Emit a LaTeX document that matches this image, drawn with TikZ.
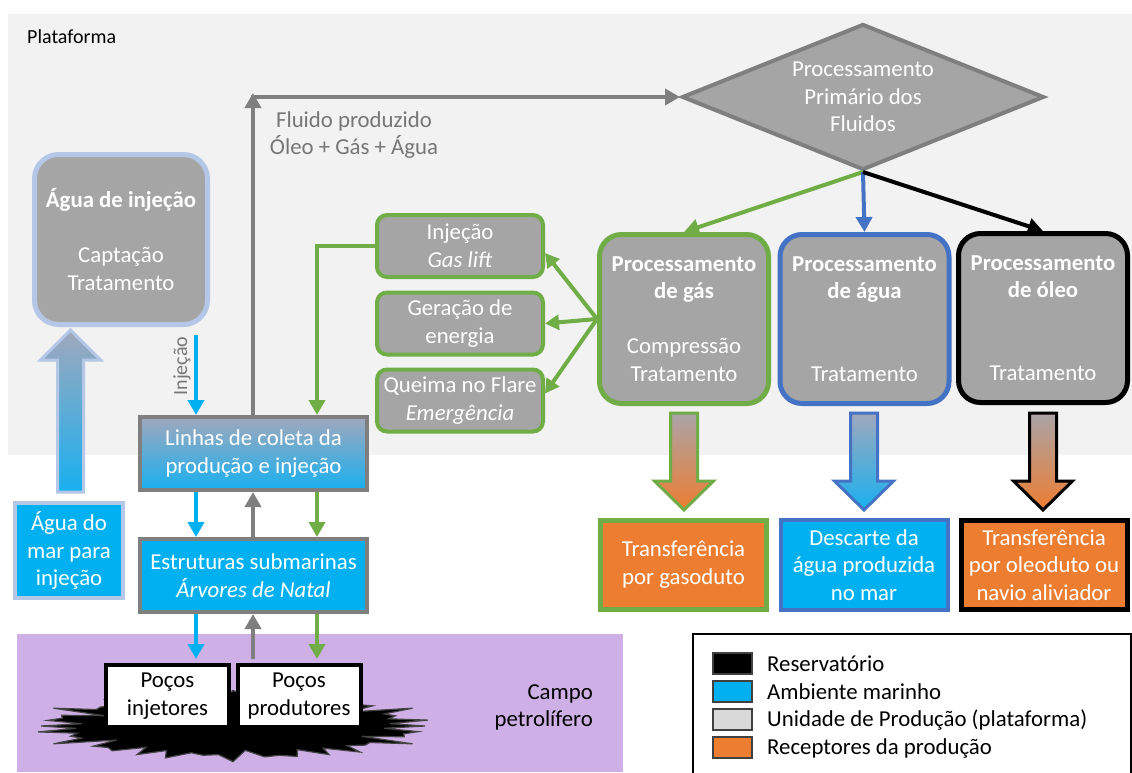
\documentclass[tikz,border=0pt]{standalone}
\usepackage{fontspec}
\setmainfont{Carlito}
\usetikzlibrary{arrows.meta,calc,shapes.geometric}

\definecolor{platbg}{HTML}{F2F2F2}
\definecolor{boxgray}{HTML}{A5A5A5}
\definecolor{edgegray}{HTML}{7F7F7F}
\definecolor{gasgreen}{HTML}{70AD47}
\definecolor{watblue}{HTML}{4472C4}
\definecolor{seacyan}{HTML}{00B0F0}
\definecolor{recorange}{HTML}{ED7D31}
\definecolor{paleblue}{HTML}{B4C7E7}
\definecolor{fieldpurple}{RGB}{207,176,230}
\definecolor{labelgray}{HTML}{767676}
\definecolor{fadeblue}{RGB}{160,168,188}
\definecolor{fadegray}{RGB}{170,164,168}
\definecolor{deepcyan}{RGB}{24,176,240}
\definecolor{legendgray}{HTML}{D9D9D9}
\definecolor{swatchedge}{HTML}{404040}
\definecolor{rockgray}{HTML}{444444}

\tikzset{
  base/.style={font=\fontsize{22.8pt}{27.6pt}\selectfont, align=center, inner sep=0pt},
  graybox/.style={base, fill=boxgray, text=white},
  procbox/.style={graybox, line width=5pt, minimum width=169pt, minimum height=169pt, rounded corners=22pt},
  sidebox/.style={graybox, draw=gasgreen, line width=4pt, minimum width=166pt, minimum height=62pt, rounded corners=10pt},
  recbox/.style={base, text=white, line width=5pt, minimum width=166pt, minimum height=89pt},
  wellbox/.style={base, draw=black, fill=white, line width=4pt, minimum width=123pt, minimum height=62pt},
  seabox/.style={base, draw=edgegray, line width=4pt, text=white, minimum width=227pt, minimum height=73pt},
  swatch/.style={draw=swatchedge, line width=2.5pt, minimum width=39pt, minimum height=21pt, inner sep=0pt},
  legtext/.style={base, anchor=west},
  conn/.style={line width=4pt, -{Triangle[length=15pt,width=16pt]}},
  fatarrow/.style={line width=3pt, line join=miter},
}

\begin{document}
\begin{tikzpicture}[x=1pt, y=-1pt]
\useasboundingbox (0,0) rectangle (1132,772);

% platform and oil field areas
\fill[platbg] (8,14) rectangle (1132,455);
\fill[fieldpurple] (17,634) rectangle (623,772);
\node[base, anchor=west, font=\fontsize{20pt}{24pt}\selectfont] (plat) at (27,37) {Plataforma};
\node[base, anchor=east, align=right] (campo) at (593,707.5) {Campo\\petrolífero};

% reservoir rock: a flattened jagged starburst
\begin{scope}[shift={(233,726)}]
  \filldraw[fill=black, draw=rockgray, line width=1.2pt, line join=miter]
    (192,0) \foreach \k in {1,...,71}{
      -- ({(1-0.2*mod(\k,2)-0.05*mod(\k,3)+0.04*mod(\k,4))*192*cos(5*\k)},
          {(1-0.2*mod(\k,2)-0.05*mod(\k,3)+0.04*mod(\k,4))*33*sin(5*\k)}) } -- cycle;
\end{scope}

% column positions of the vertical links
\coordinate (colA) at (196,0);
\coordinate (colB) at (253,0);
\coordinate (colC) at (317,0);
\coordinate (fc) at (253,97);
\coordinate (injsrc) at (196,335);

% injection water
\node[graybox, draw=paleblue, line width=5pt, minimum width=173pt, minimum height=170pt, rounded corners=24pt] (agua) at (121,239.5)
  {\textbf{Água de injeção}\\\mbox{}\\Captação\\Tratamento};
\node[base, draw=paleblue, fill=seacyan, text=white, line width=4pt, minimum width=108pt, minimum height=95pt] (mar) at (69,550.5)
  {Água do\\mar para\\injeção};
\begin{scope}[shift={(70.5,492)}]
  \path[fatarrow, draw=paleblue, top color=fadeblue, bottom color=deepcyan]
    (-13,0) -- (-13,-132) -- (-30,-132) -- (0,-162) -- (30,-132) -- (13,-132) -- (13,0) -- cycle;
\end{scope}

% subsea lines and structures
\node[seabox, top color=fadeblue, bottom color=deepcyan] (lin) at (253.5,453.5) {Linhas de coleta da\\produção e injeção};
\node[seabox, fill=seacyan] (est) at (253.5,575.5) {Estruturas submarinas\\\textit{Árvores de Natal}};

% wells
\node[wellbox] (pinj) at (167.5,696) {Poços\\injetores};
\node[wellbox] (pprod) at (299,696) {Poços\\produtores};

% gas uses
\node[sidebox] (gl) at (460,246) {Injeção\\\textit{Gas lift}};
\node[sidebox] (ger) at (460,323.5) {Geração de\\energia};
\node[sidebox] (que) at (460,400.5) {Queima no Flare\\\textit{Emergência}};

% primary processing
\node[diamond, graybox, draw=edgegray, line width=4pt, minimum width=362pt, minimum height=146pt, shape aspect=2.45] (ppf) at (863,97)
  {Processamento\\Primário dos\\Fluidos};
\node[base, text=labelgray] (fluido) at (354,135) {Fluido produzido\\Óleo + Gás + Água};

\node[procbox, draw=gasgreen] (gas) at (684,319)
  {\textbf{Processamento}\\\textbf{de gás}\\\mbox{}\\Compressão\\Tratamento};
\node[procbox, draw=watblue] (wat) at (864.5,319)
  {\textbf{Processamento}\\\textbf{de água}\\\mbox{}\\\mbox{}\\Tratamento};
\node[procbox, draw=black] (oil) at (1043,318)
  {\textbf{Processamento}\\\textbf{de óleo}\\\mbox{}\\\mbox{}\\Tratamento};

% production receivers
\node[recbox, draw=gasgreen, fill=recorange] (rgas) at (683.5,564.5) {Transferência\\por gasoduto};
\node[recbox, draw=watblue, fill=seacyan, line width=4pt, minimum width=167pt, minimum height=90pt] (rwat) at (864,565) {Descarte da\\água produzida\\no mar};
\node[recbox, draw=black, fill=recorange] (roil) at (1044,565) {Transferência\\por oleoduto ou\\navio aliviador};

% transfer arrows
\begin{scope}[shift={(684,413)}]
  \path[fatarrow, draw=gasgreen, top color=fadegray, bottom color=recorange]
    (-13.5,0) -- (-13.5,68) -- (-29.5,68) -- (0,97) -- (29.5,68) -- (13.5,68) -- (13.5,0) -- cycle;
\end{scope}
\begin{scope}[shift={(864,413)}]
  \path[fatarrow, draw=watblue, top color=fadeblue, bottom color=deepcyan]
    (-13.5,0) -- (-13.5,68) -- (-29.5,68) -- (0,97) -- (29.5,68) -- (13.5,68) -- (13.5,0) -- cycle;
\end{scope}
\begin{scope}[shift={(1043,413)}]
  \path[fatarrow, draw=black, top color=fadegray, bottom color=recorange]
    (-13.5,0) -- (-13.5,68) -- (-29.5,68) -- (0,97) -- (29.5,68) -- (13.5,68) -- (13.5,0) -- cycle;
\end{scope}

% produced fluid to primary processing
\draw[conn, edgegray] (lin.north -| fc) -- ($(fc)+(0,-4)$);
\draw[conn, edgegray] ($(fc)+(-2,0)$) -- (ppf.west);

% primary processing outputs
\draw[conn, gasgreen] (ppf.south) -- (gas.north);
\draw[conn, watblue] (ppf.south) -- (wat.north);
\draw[conn, black] (ppf.south) -- (oil.north);

% gas destinations
\draw[conn, gasgreen, -{Triangle[length=14pt,width=15pt]}] (gas.west) -- ($(gl.east)+(0,7)$);
\draw[conn, gasgreen, -{Triangle[length=14pt,width=15pt]}] (gas.west) -- (ger.east);
\draw[conn, gasgreen, -{Triangle[length=14pt,width=15pt]}] (gas.west) -- ($(que.east)+(0,-7)$);

% gas lift back to the collection lines
\draw[conn, gasgreen] (gl.west) -| (lin.north -| colC);

% injection water to the collection lines
\draw[conn, seacyan] (injsrc) -- (injsrc |- lin.north);
\node[base, text=labelgray, rotate=90, font=\fontsize{20pt}{24pt}\selectfont] (injlbl) at (182,366) {Injeção};

% links between lines, structures and wells
\draw[conn, seacyan] (lin.south -| colA) -- (est.north -| colA);
\draw[conn, edgegray] (est.north -| colB) -- (lin.south -| colB);
\draw[conn, gasgreen] (lin.south -| colC) -- (est.north -| colC);
\draw[conn, seacyan] (est.south -| colA) -- ($(pinj.north -| colA)+(0,-4)$);
\draw[conn, edgegray] ($(pprod.north -| colB)+(0,-4)$) -- (est.south -| colB);
\draw[conn, gasgreen] (est.south -| colC) -- ($(pprod.north -| colC)+(0,-4)$);

% legend
\draw[black, line width=2pt] (693,634) rectangle (1131,778);
\node[swatch, fill=black] (swres) at (732.5,663.5) {};
\node[swatch, fill=seacyan] (swsea) at (732.5,691.5) {};
\node[swatch, fill=legendgray] (swplat) at (732.5,719.5) {};
\node[swatch, fill=recorange] (swrec) at (732.5,747.5) {};
\node[legtext] (lres) at (767,664) {Reservatório};
\node[legtext] (lsea) at (767,692) {Ambiente marinho};
\node[legtext] (lplat) at (767,720) {Unidade de Produção (plataforma)};
\node[legtext] (lrec) at (767,748) {Receptores da produção};
\end{tikzpicture}
\end{document}
